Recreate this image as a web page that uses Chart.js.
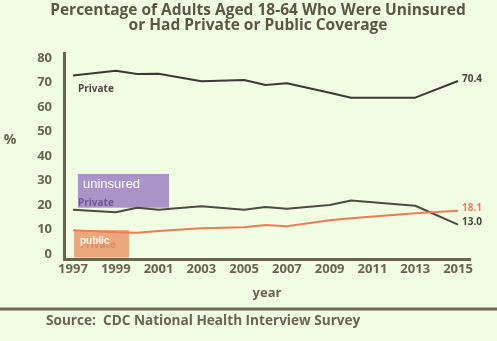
<!DOCTYPE html>
<html>
<head>
<meta charset="utf-8">
<script src="https://cdn.jsdelivr.net/npm/chart.js@4.4.1/dist/chart.umd.min.js"></script>
<style>
  html, body { margin: 0; padding: 0; background: #f1fde2; }
  #wrap { width: 497px; height: 341px; }
</style>
</head>
<body>
<div id="wrap"><canvas id="chart" width="497" height="341"></canvas></div>
<script>
// values
const years = [1997, 1999, 2000, 2001, 2003, 2005, 2006, 2007, 2009, 2010, 2013, 2015];
const privateCov = [72.9, 74.8, 73.5, 73.6, 70.5, 71.0, 69.0, 69.7, 65.8, 63.8, 63.8, 70.6];
const uninsured = [18.1, 17.0, 18.9, 18.1, 19.5, 18.1, 19.2, 18.5, 20.0, 21.8, 19.7, 12.0];
const publicCov = [9.7, 8.9, 8.7, 9.4, 10.5, 10.9, 11.8, 11.3, 13.8, 14.6, 16.6, 17.7];

const xTicks = [1997, 1999, 2001, 2003, 2005, 2007, 2009, 2011, 2013, 2015];
const yTicks = [0, 10, 20, 30, 40, 50, 60, 70, 80];
const endLabels = { private: "70.4", uninsured: "13.0", public: "18.1" };

const titleLines = [
    "Percentage of Adults Aged 18-64 Who Were Uninsured",
    "or Had Private or Public Coverage"
];
const sourceText = "Source:  CDC National Health Interview Survey";

const INK = "#6b6550";
const DARK = "#3a3936";
const ORANGE = "#ef7a58";
const FONT = "'Open Sans', 'DejaVu Sans', sans-serif";

const toPoints = (vals) => years.map((y, i) => ({ x: y, y: vals[i] }));

const decor = {
    id: "decor",
    beforeDatasetsDraw(chart) {
        const ctx = chart.ctx;
        const xs = chart.scales.x;
        const ys = chart.scales.y;
        ctx.save();
        // purple "uninsured" box
        let x0 = xs.getPixelForValue(1997.23), x1 = xs.getPixelForValue(2001.49);
        let y0 = ys.getPixelForValue(32.7), y1 = ys.getPixelForValue(18.9);
        ctx.fillStyle = "#aa93c7";
        ctx.fillRect(x0, y0, x1 - x0, y1 - y0);
        // orange "public" box
        x0 = xs.getPixelForValue(1997.05); x1 = xs.getPixelForValue(1999.62);
        y0 = ys.getPixelForValue(9.8); y1 = ys.getPixelForValue(-1.5);
        ctx.fillStyle = "#eaa87d";
        ctx.fillRect(x0, y0, x1 - x0, y1 - y0);
        ctx.restore();
    },
    afterDatasetsDraw(chart) {
        const ctx = chart.ctx;
        const xs = chart.scales.x;
        const ys = chart.scales.y;
        ctx.save();
        ctx.textBaseline = "middle";
        ctx.textAlign = "left";

        // "Private" tags
        ctx.font = "bold 10px " + FONT;
        ctx.fillStyle = "#4a4944";
        ctx.fillText("Private", 78, 89);
        ctx.fillStyle = "#6e5a96";
        ctx.fillText("Private", 78, 203);
        ctx.fillStyle = "#e08a5e";
        ctx.fillText("Private", 80, 245);

        // box captions
        ctx.fillStyle = "#ffffff";
        ctx.font = "13px 'Liberation Sans', Arial, sans-serif";
        ctx.fillText("uninsured", 83, 184);
        ctx.font = "bold 10px 'Liberation Sans', Arial, sans-serif";
        ctx.fillText("public", 80, 241);

        // end-of-line values
        const last = years.length - 1;
        const xe = xs.getPixelForValue(years[last]) + 4;
        ctx.font = "bold 10px " + FONT;
        ctx.fillStyle = "#45443f";
        ctx.fillText(endLabels.private, xe, ys.getPixelForValue(privateCov[last]) - 2);
        ctx.fillText(endLabels.uninsured, xe, ys.getPixelForValue(uninsured[last]) - 2);
        ctx.fillStyle = ORANGE;
        ctx.fillText(endLabels.public, xe, ys.getPixelForValue(publicCov[last]) - 2);
        ctx.restore();
    },
    afterDraw(chart) {
        const ctx = chart.ctx;
        ctx.save();
        ctx.textBaseline = "middle";
        // title
        ctx.fillStyle = "#5b5647";
        ctx.textAlign = "center";
        ctx.font = "bold 15.5px " + FONT;
        ctx.fillText(titleLines[0], 258, 11);
        ctx.fillText(titleLines[1], 258, 26);
        // y unit
        ctx.fillStyle = INK;
        ctx.font = "bold 14px " + FONT;
        ctx.fillText("%", 10, 140);
        // separator
        ctx.strokeStyle = "#6e6853";
        ctx.lineWidth = 3;
        ctx.beginPath();
        ctx.moveTo(0, 309);
        ctx.lineTo(497, 309);
        ctx.stroke();
        // source
        ctx.textAlign = "left";
        ctx.font = "bold 13.6px " + FONT;
        ctx.fillText(sourceText, 46, 321);
        ctx.restore();
    }
};

new Chart(document.getElementById("chart"), {
    type: "line",
    data: {
        datasets: [
            { label: "public", data: toPoints(publicCov), borderColor: ORANGE, borderWidth: 2 },
            { label: "uninsured", data: toPoints(uninsured), borderColor: "#4b4a45", borderWidth: 2 },
            { label: "private", data: toPoints(privateCov), borderColor: DARK, borderWidth: 2 },
        ]
    },
    options: {
        responsive: false,
        animation: false,
        events: [],
        elements: {
            point: { radius: 0 },
            line: { tension: 0, borderJoinStyle: "round" },
        },
        layout: { padding: { top: 53, right: 27, bottom: 0, left: 0 } },
        plugins: {
            legend: { display: false },
            tooltip: { enabled: false },
        },
        scales: {
            x: {
                type: "linear",
                min: 1996.58,
                max: 2015.56,
                afterBuildTicks: (scale) => { scale.ticks = xTicks.map(v => ({ value: v })); },
                afterFit: (scale) => { scale.height = 82; },
                grid: { display: false, drawTicks: false },
                border: { display: true, color: "#6b6451", width: 3 },
                ticks: {
                    color: INK,
                    padding: 2,
                    maxRotation: 0,
                    autoSkip: false,
                    font: { family: FONT, size: 13, weight: "bold" },
                    callback: (v) => String(v),
                },
                title: {
                    display: true,
                    text: "year",
                    color: INK,
                    font: { family: FONT, size: 13, weight: "bold" },
                    padding: { top: 0, bottom: 40 },
                },
            },
            y: {
                min: -2.04,
                max: 82.04,
                afterBuildTicks: (scale) => { scale.ticks = yTicks.map(v => ({ value: v })); },
                afterFit: (scale) => { scale.width = 64; },
                grid: { display: false, drawTicks: false },
                border: { display: true, color: "#6b6451", width: 3 },
                ticks: {
                    color: INK,
                    padding: 12,
                    font: { family: FONT, size: 13, weight: "bold" },
                    callback: (v) => String(v),
                },
            },
        },
    },
    plugins: [decor],
});
</script>
</body>
</html>
